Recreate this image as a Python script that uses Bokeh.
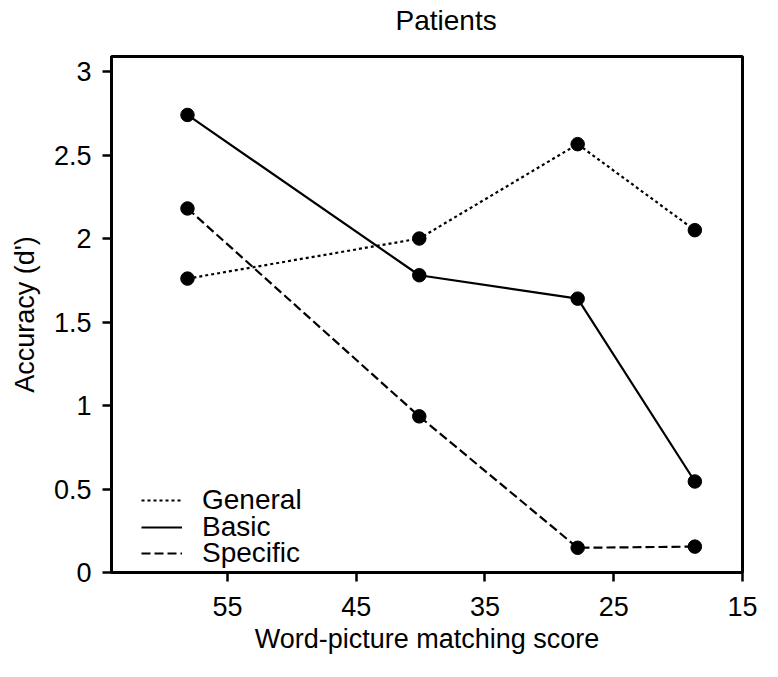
from bokeh.plotting import figure
from bokeh.models import Range1d, FixedTicker, NumeralTickFormatter, Legend, LegendItem, Title
from bokeh.embed import file_html
from bokeh.resources import INLINE

# Data
score = [58.1, 40.1, 27.8, 18.7]
general = [1.76, 2.00, 2.565, 2.05]
basic = [2.74, 1.78, 1.64, 0.545]
specific = [2.18, 0.935, 0.148, 0.155]
x_ticks = [55, 45, 35, 25, 15]
y_ticks = [0, 0.5, 1, 1.5, 2, 2.5, 3]
series_names = ["General", "Basic", "Specific"]
title_text = "Patients"
x_title = "Word-picture matching score"
y_title = "Accuracy (d')"

FONT = "Liberation Sans"
FS = "27px"
FS_BIG = "28px"

p = figure(width=762, height=661, output_backend="svg", toolbar_location=None,
           x_range=Range1d(64, 15), y_range=Range1d(0, 3.09),
           min_border_left=111, min_border_right=20, min_border_top=55, min_border_bottom=89)

# spacer between frame and title, then the title itself
p.add_layout(Title(text=" ", text_font_size="1px", standoff=16), "above")
p.add_layout(Title(text=title_text, text_font=FONT, text_font_size=FS_BIG,
                   text_font_style="normal", text_color="black",
                   align="left", offset=284, standoff=4), "above")

p.grid.visible = False
p.outline_line_color = "black"
p.outline_line_width = 3
p.outline_line_alpha = 1

for ax in (p.xaxis[0], p.yaxis[0]):
    ax.axis_line_width = 3
    ax.axis_line_color = "black"
    ax.major_tick_line_width = 2.5
    ax.major_tick_line_color = "black"
    ax.major_tick_out = 9
    ax.major_tick_in = 0
    ax.minor_tick_out = 0
    ax.minor_tick_in = 0
    ax.major_label_text_font = FONT
    ax.major_label_text_font_size = FS
    ax.major_label_text_color = "black"
    ax.axis_label_text_font = FONT
    ax.axis_label_text_font_size = FS
    ax.axis_label_text_font_style = "normal"
    ax.axis_label_text_color = "black"

p.xaxis.ticker = FixedTicker(ticks=x_ticks)
p.yaxis.ticker = FixedTicker(ticks=y_ticks)
p.yaxis.formatter = NumeralTickFormatter(format="0.[0]")
p.xaxis.axis_label = x_title
p.yaxis.axis_label = y_title
p.xaxis.major_label_standoff = 15
p.xaxis.axis_label_standoff = 5
p.yaxis.major_label_standoff = 11
p.yaxis.axis_label_standoff = 11

lg = p.line(score, general, line_color="black", line_width=2.2, line_dash="3 3")
lb = p.line(score, basic, line_color="black", line_width=2.2)
ls = p.line(score, specific, line_color="black", line_width=2.2, line_dash="9 4")
for ys in (general, basic, specific):
    p.scatter(score, ys, size=13.5, marker="circle", fill_color="black", line_color="black")

for name, rend, ly in zip(series_names, (lg, lb, ls), (56, 29, 3)):
    leg = Legend(items=[LegendItem(label=name, renderers=[rend])],
                 location=(30, ly), padding=0, margin=0, spacing=0,
                 glyph_width=41, glyph_height=26, label_standoff=20,
                 label_text_font=FONT, label_text_font_size=FS_BIG,
                 label_text_color="black",
                 border_line_alpha=0, background_fill_alpha=0)
    p.add_layout(leg)

open("out.html", "w").write(file_html(p, INLINE))
